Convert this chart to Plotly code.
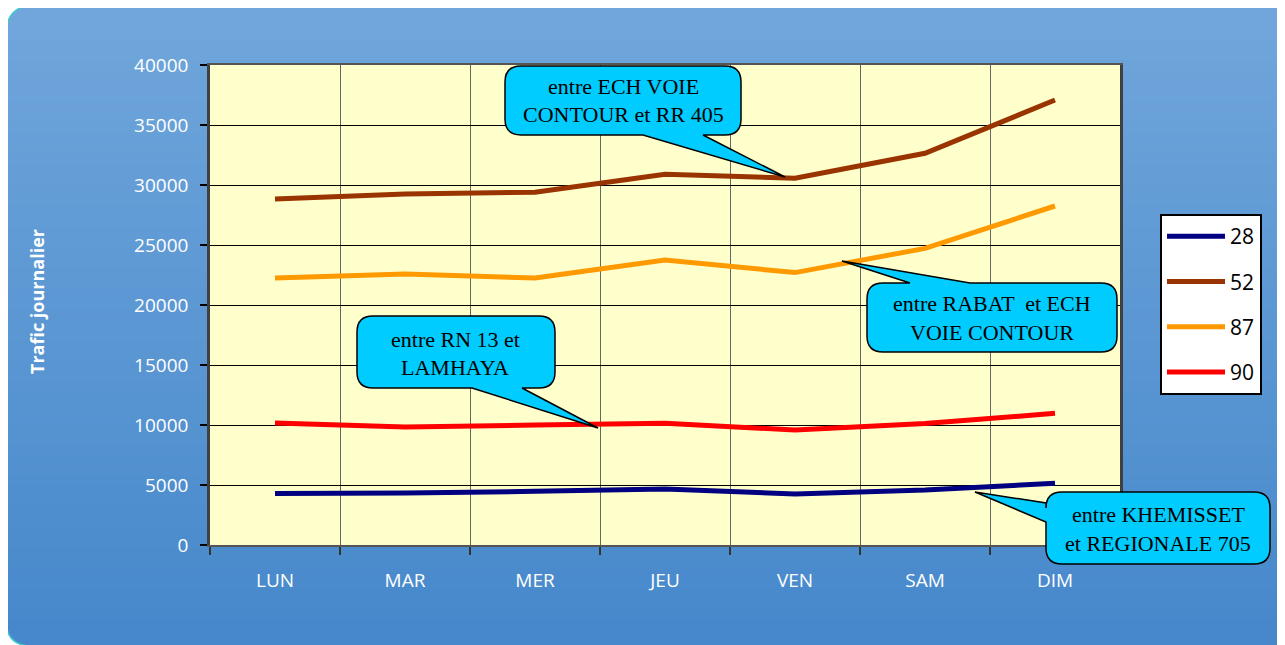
import plotly.graph_objects as go

# ---------------- data ----------------
days = ["LUN", "MAR", "MER", "JEU", "VEN", "SAM", "DIM"]
s28 = [4300, 4330, 4470, 4670, 4250, 4580, 5150]
s52 = [28830, 29250, 29400, 30900, 30560, 32640, 37080]
s87 = [22250, 22580, 22250, 23750, 22700, 24720, 28250]
s90 = [10170, 9830, 10000, 10140, 9580, 10120, 10970]
series_names = ["28", "52", "87", "90"]
series_values = [s28, s52, s87, s90]
series_colors = ["#000080", "#993300", "#FF9900", "#FF0000"]
y_ticks = [0, 5000, 10000, 15000, 20000, 25000, 30000, 35000, 40000]

# ---------------- layout geometry (pixels, page coords) ----------------
OFF = 8                      # default body margin of the html page
W, H = 1285 - OFF, 645 - OFF
L, R, T, B = 210, 1120, 65, 545
PW, PH = R - L, B - T


def px(x):
    return (x - L) / PW


def py(y):
    return (B - y) / PH


def P(x, y):
    return f"{px(x):.5f},{py(y):.5f}"


fig = go.Figure()
xs = list(range(len(days)))
for name, vals, col in zip(series_names, series_values, series_colors):
    fig.add_trace(go.Scatter(
        x=xs, y=vals, name=name, mode="lines", legendgroup=name,
        line=dict(color=col, width=5),
    ))

shapes = []

# --- outer rounded blue frame with vertical gradient ---
top_c = (112, 166, 219)
bot_c = (70, 136, 203)


def mix(t):
    return "rgb(%d,%d,%d)" % tuple(round(a + (b - a) * t) for a, b in zip(top_c, bot_c))


fx0, fy0, fx1, fy1 = 6, 5, 1300, 646
rt, rb = 30, 26
path_top = (f"M {P(fx0, fy0 + rt)} Q {P(fx0, fy0)} {P(fx0 + rt, fy0)} L {P(fx1, fy0)} "
            f"L {P(fx1, 60)} L {P(fx0, 60)} Z")
shapes.append(dict(type="path", path=path_top, xref="paper", yref="paper",
                   fillcolor=mix(0), line=dict(width=0), layer="below"))
n = 56
y_start, y_end = 40, 620
for i in range(n):
    ya = y_start + (y_end - y_start) * i / n
    yb = y_start + (y_end - y_start) * (i + 1) / n + 0.8
    t = ((ya + yb) / 2 - fy0) / (fy1 - fy0)
    shapes.append(dict(type="rect", xref="paper", yref="paper",
                       x0=px(fx0), x1=px(fx1), y0=py(yb), y1=py(ya),
                       fillcolor=mix(t), line=dict(width=0), layer="below"))
path_bot = (f"M {P(fx0, y_end - 1)} L {P(fx0, fy1 - rb)} Q {P(fx0, fy1)} {P(fx0 + rb, fy1)} "
            f"L {P(fx1, fy1)} L {P(fx1, y_end - 1)} Z")
shapes.append(dict(type="path", path=path_bot, xref="paper", yref="paper",
                   fillcolor=mix(1), line=dict(width=0), layer="below"))
path_border = (f"M {P(fx1, fy0)} L {P(fx0 + rt, fy0)} Q {P(fx0, fy0)} {P(fx0, fy0 + rt)} "
               f"L {P(fx0, fy1 - rb)} Q {P(fx0, fy1)} {P(fx0 + rb, fy1)}")
shapes.append(dict(type="path", path=path_border, xref="paper", yref="paper",
                   line=dict(color="#3FC9C9", width=1.5), layer="below"))

# plot area fill
shapes.append(dict(type="rect", xref="paper", yref="paper", x0=0, x1=1, y0=0, y1=1,
                   fillcolor="#FFFFCC", line=dict(width=0), layer="below"))


# --- callouts ---
def callout(x0, y0, x1, y1, r, side, b1, b2, tip):
    tx, ty = tip
    d = [f"M {P(x0 + r, y0)}"]
    if side == "top":
        d.append(f"L {P(b1, y0)} L {P(tx, ty)} L {P(b2, y0)}")
    d.append(f"L {P(x1 - r, y0)} Q {P(x1, y0)} {P(x1, y0 + r)}")
    d.append(f"L {P(x1, y1 - r)} Q {P(x1, y1)} {P(x1 - r, y1)}")
    if side == "bottom":
        d.append(f"L {P(b2, y1)} L {P(tx, ty)} L {P(b1, y1)}")
    d.append(f"L {P(x0 + r, y1)} Q {P(x0, y1)} {P(x0, y1 - r)}")
    if side == "left":
        d.append(f"L {P(x0, b2)} L {P(tx, ty)} L {P(x0, b1)}")
    d.append(f"L {P(x0, y0 + r)} Q {P(x0, y0)} {P(x0 + r, y0)} Z")
    return dict(type="path", path=" ".join(d), xref="paper", yref="paper",
                fillcolor="#00CCFF", line=dict(color="black", width=1.5), layer="above")


callouts = [
    (505, 66, 741, 135, "bottom", 643, 703, (785, 177),
     ["entre ECH VOIE", "CONTOUR et RR 405"], 623, [87, 115]),
    (867, 283, 1117, 352, "top", 910, 970, (842, 261),
     ["entre RABAT  et ECH", "VOIE CONTOUR"], 992, [303, 332]),
    (357, 316, 555, 388, "bottom", 472, 522, (598, 428),
     ["entre RN 13 et", "LAMHAYA"], 455, [339, 367]),
    (1046, 492, 1270, 564, "left", 503, 522, (975, 492),
     ["entre KHEMISSET", "et REGIONALE 705"], 1158, [514, 543]),
]
annotations = []
for (x0, y0, x1, y1, side, b1, b2, tip, lines, cx, lys) in callouts:
    shapes.append(callout(x0, y0, x1, y1, 16, side, b1, b2, tip))
    for txt, ly in zip(lines, lys):
        annotations.append(dict(text=txt, x=px(cx), y=py(ly), xref="paper", yref="paper",
                                showarrow=False, xanchor="center", yanchor="middle",
                                font=dict(family="Liberation Serif", size=22, color="black")))

annotations.append(dict(text="<b>Trafic journalier</b>", x=px(37), y=py(302),
                        xref="paper", yref="paper", showarrow=False, textangle=-90,
                        xanchor="center", yanchor="middle",
                        font=dict(family="Open Sans", size=18, color="white")))

fig.update_layout(
    width=W, height=H,
    margin=dict(l=L - OFF, r=W - (R - OFF), t=T - OFF, b=H - (B - OFF), pad=0),
    paper_bgcolor="white",
    plot_bgcolor="rgba(0,0,0,0)",
    shapes=shapes,
    annotations=annotations,
    showlegend=True,
    legend=dict(
        x=px(1160), y=py(214), xanchor="left", yanchor="top",
        bgcolor="white", bordercolor="black", borderwidth=2,
        font=dict(family="Open Sans", size=21, color="black"),
        tracegroupgap=15, itemwidth=58,
    ),
    xaxis=dict(
        range=[-0.5, 6.5], tickvals=xs, ticktext=days, ticks="", showgrid=False,
        zeroline=False, showline=True, linecolor="#555555", linewidth=2, mirror=True,
        tickfont=dict(family="Open Sans", size=19, color="white"),
        ticklabelstandoff=17,
        minor=dict(tickvals=[i - 0.5 for i in range(8)], showgrid=True,
                   gridcolor="#666666", gridwidth=1, ticks="outside", ticklen=8,
                   tickcolor="#333333", tickwidth=1.5),
    ),
    yaxis=dict(
        range=[0, 40000], tickvals=y_ticks, ticktext=[str(v) for v in y_ticks],
        ticks="outside", ticklen=7, tickcolor="black", tickwidth=1.5,
        showgrid=True, gridcolor="black", gridwidth=1, zeroline=False,
        showline=True, linecolor="#404040", linewidth=2.5, mirror=True,
        tickfont=dict(family="Open Sans", size=19, color="white"),
        ticklabelstandoff=8,
    ),
)

fig.write_html("out.html")
